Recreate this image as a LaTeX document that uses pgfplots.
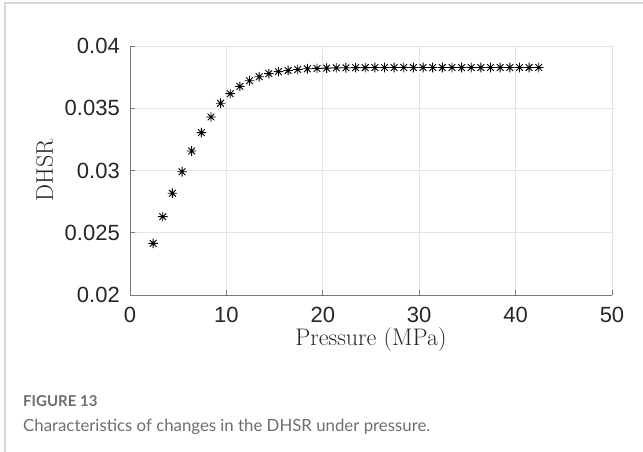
\documentclass[border=0pt]{standalone}
\usepackage{pgfplots}
\pgfplotsset{compat=1.18}
\usepackage{fontspec}
\newfontfamily\ticksans{Liberation Sans}
\newfontfamily\capfont{Lato}

\definecolor{gridgray}{RGB}{228,228,228}
\definecolor{axgray}{RGB}{120,120,120}
\definecolor{capgray}{RGB}{110,110,110}
\definecolor{framegray}{RGB}{215,215,215}

% MATLAB-style '*' marker: a plus and a cross on top of each other
\pgfdeclareplotmark{mstar}{%
  \pgfpathmoveto{\pgfqpoint{-\pgfplotmarksize}{0pt}}%
  \pgfpathlineto{\pgfqpoint{\pgfplotmarksize}{0pt}}%
  \pgfpathmoveto{\pgfqpoint{0pt}{-\pgfplotmarksize}}%
  \pgfpathlineto{\pgfqpoint{0pt}{\pgfplotmarksize}}%
  \pgfpathmoveto{\pgfqpoint{-.7\pgfplotmarksize}{-.7\pgfplotmarksize}}%
  \pgfpathlineto{\pgfqpoint{.7\pgfplotmarksize}{.7\pgfplotmarksize}}%
  \pgfpathmoveto{\pgfqpoint{-.7\pgfplotmarksize}{.7\pgfplotmarksize}}%
  \pgfpathlineto{\pgfqpoint{.7\pgfplotmarksize}{-.7\pgfplotmarksize}}%
  \pgfusepathqstroke}

\begin{document}
\begin{tikzpicture}
\path[use as bounding box] (0,0) rectangle (643bp,452bp);
% light frame of the figure panel
\draw[framegray,line width=1.2bp] (5bp,0) -- (5bp,449bp) -- (643bp,449bp);

\begin{axis}[at={(130bp,157bp)},anchor=south west,
  scale only axis,width=482bp,height=249bp,
  xmin=0,xmax=50,ymin=0.02,ymax=0.04,
  xtick={0,10,...,50},ytick={0.02,0.025,...,0.04},
  yticklabels={0.02,0.025,0.03,0.035,0.04},
  scaled y ticks=false,
  axis x line*=bottom,axis y line*=left,
  axis line style={axgray,line width=0.8bp,-},
  tick align=inside,tick style={axgray,line width=0.8bp},
  major tick length=5bp,
  grid=major,grid style={gridgray,line width=0.8bp},
  ticklabel style={font=\ticksans\fontsize{22bp}{23bp}\selectfont,text=black!85,inner sep=0pt},
  xticklabel style={anchor=north,yshift=-12bp},
  yticklabel style={anchor=east,xshift=-10bp},
  /pgf/number format/assume math mode=true,
  xlabel={Pressure (MPa)},ylabel={DHSR},
  label style={font=\fontsize{24bp}{26bp}\selectfont,text=black!85,inner sep=0pt},
  xlabel style={at={(axis description cs:0.5,-0.2008)},anchor=base},
  ylabel style={at={(axis description cs:-0.1598,0.5)},anchor=base},
  clip=false]
\addplot[only marks,mark=mstar,mark size=4.8bp,mark options={black,line width=0.9bp}]
coordinates {
(2.4,0.02415)(3.4,0.02629)(4.4,0.02817)(5.4,0.02990)(6.4,0.03157)
(7.4,0.03304)(8.4,0.03430)(9.4,0.03540)(10.4,0.03617)(11.4,0.03676)
(12.4,0.03721)(13.4,0.03753)(14.4,0.03778)(15.4,0.03794)(16.4,0.03803)
(17.4,0.03811)(18.4,0.03817)(19.4,0.03820)(20.4,0.03822)(21.4,0.03824)
(22.4,0.03825)(23.4,0.03826)(24.4,0.03826)(25.4,0.03827)(26.4,0.03827)
(27.4,0.03827)(28.4,0.03827)(29.4,0.03827)(30.4,0.03827)(31.4,0.03827)
(32.4,0.03827)(33.4,0.03827)(34.4,0.03827)(35.4,0.03827)(36.4,0.03827)
(37.4,0.03827)(38.4,0.03827)(39.4,0.03827)(40.4,0.03827)(41.4,0.03827)
(42.4,0.03827)};
\end{axis}

\node[anchor=base west,inner sep=0,text=capgray,font=\capfont\bfseries\fontsize{15bp}{17bp}\selectfont] at (23bp,452bp-407bp) {FIGURE 13};
\node[anchor=base west,inner sep=0,text=capgray,font=\capfont\fontsize{16.8bp}{20bp}\selectfont] at (23bp,452bp-431bp) {Characteristics of changes in the DHSR under pressure.};
\end{tikzpicture}
\end{document}
